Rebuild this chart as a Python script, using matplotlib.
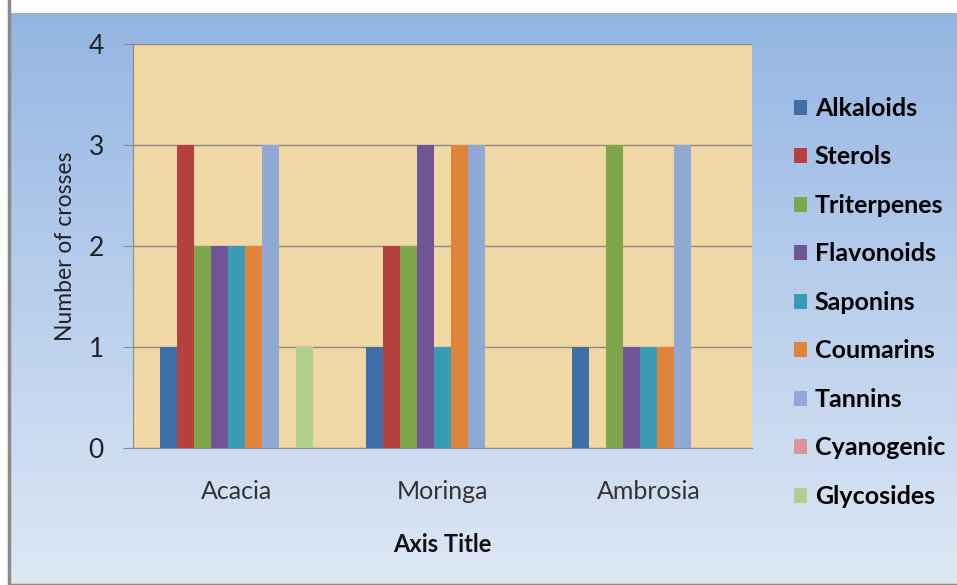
import numpy as np
import matplotlib.pyplot as plt
from matplotlib.patches import Rectangle

plants = ['Acacia', 'Moringa', 'Ambrosia']
series = ['Alkaloids', 'Sterols', 'Triterpenes', 'Flavonoids', 'Saponins',
          'Coumarins', 'Tannins', 'Cyanogenic', 'Glycosides']
values = {
    'Alkaloids':   [1, 1, 1],
    'Sterols':     [3, 2, 0],
    'Triterpenes': [2, 2, 3],
    'Flavonoids':  [2, 3, 1],
    'Saponins':    [2, 1, 1],
    'Coumarins':   [2, 3, 1],
    'Tannins':     [3, 3, 3],
    'Cyanogenic':  [0, 0, 0],
    'Glycosides':  [1, 0, 0],
}
colors = ['#3f6fa8', '#b5403d', '#7fa64a', '#6f5595', '#3a9bb5',
          '#e0843a', '#8fa9d4', '#d99694', '#b1d08e']

plt.rcParams['font.family'] = ['Lato', 'DejaVu Sans']

fig = plt.figure(figsize=(9.57, 5.85), dpi=100)
fig.patch.set_facecolor('white')

# blue gradient chart background with gray frame
bg = fig.add_axes([9 / 957, 0, 1 - 9 / 957, 1 - 13 / 585])
grad = np.linspace(0, 1, 256).reshape(-1, 1)
top = np.array([0.58, 0.71, 0.89])
bot = np.array([0.87, 0.91, 0.96])
img = top + (bot - top) * grad[..., None]
bg.imshow(img, aspect='auto')
bg.axis('off')
bg.add_patch(Rectangle((0, 0), 1.2, 1.2, fill=False, edgecolor='#8a8a8a',
                       lw=2.5, transform=bg.transAxes, clip_on=False))

ax = fig.add_axes([133 / 957, 137 / 585, 619 / 957, 404 / 585])
ax.set_facecolor('#efd8a3')

x = np.arange(len(plants))
w = 0.0825
for i, name in enumerate(series):
    ax.bar(x + (i - 4) * w, values[name], width=w, color=colors[i],
           label=name, zorder=3)

ax.set_xlim(-0.5, 2.5)
ax.set_ylim(0, 4)
ax.set_yticks([0, 1, 2, 3, 4])
ax.yaxis.grid(True, color='#8a8a8a', lw=1, zorder=1)
ax.set_xticks(x)
ax.set_xticklabels(plants, fontsize=18, color='#333333')
ax.tick_params(axis='x', length=0, pad=23)
ax.tick_params(axis='y', length=7, color='#8a8a8a', labelsize=19,
               labelcolor='#222222', pad=14)
for s in ['top', 'right']:
    ax.spines[s].set_visible(False)
ax.spines['left'].set_color('#8a8a8a')
ax.spines['bottom'].set_color('#8a8a8a')

ax.set_ylabel('Number of crosses', fontsize=16.5, color='#222222', labelpad=9)
fig.text(442 / 957, 1 - 545 / 585, 'Axis Title', fontsize=17,
         fontweight='bold', ha='center', va='center', color='#111111')

ax.legend(loc='upper left', bbox_to_anchor=(1.047, 0.90), frameon=False,
          prop={'size': 18, 'weight': 'bold'}, labelspacing=1.02,
          handlelength=0.55, handleheight=0.55, handletextpad=0.3,
          borderpad=0)

fig.savefig('out.png', dpi=100)
